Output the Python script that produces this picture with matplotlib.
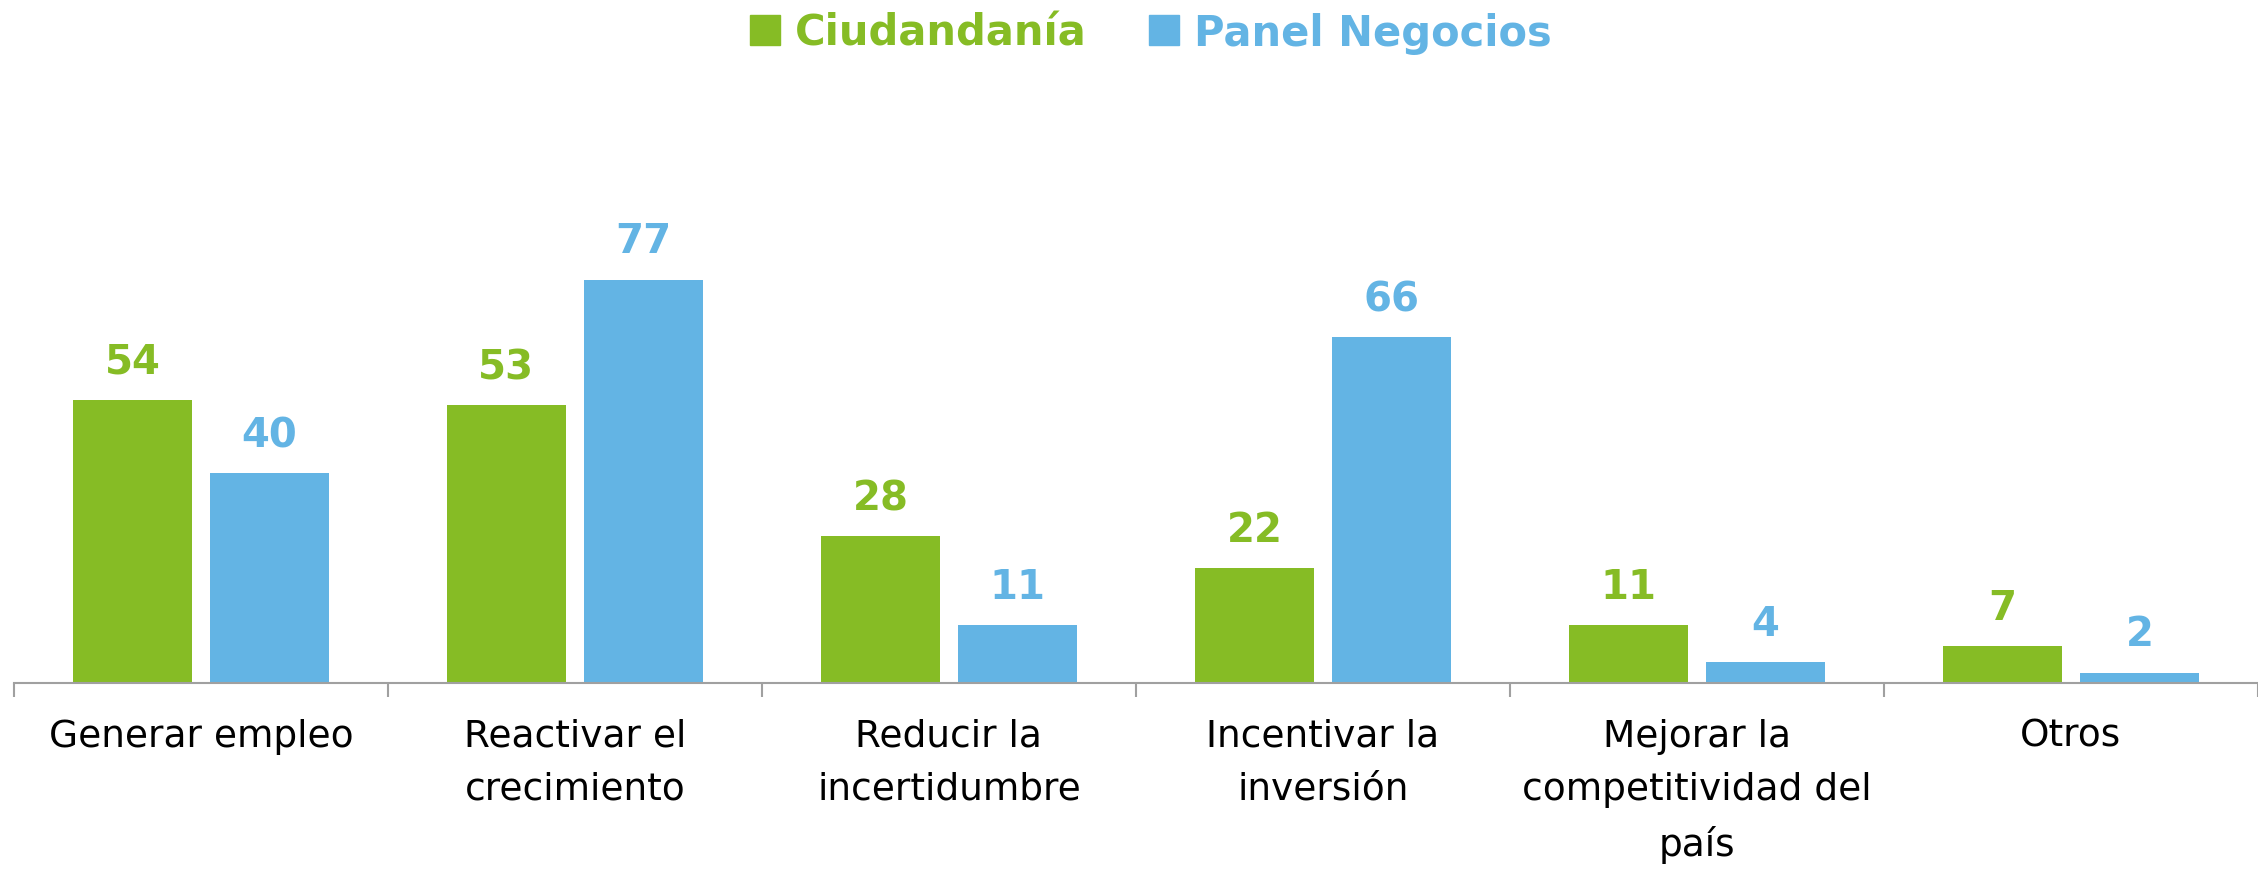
import matplotlib
matplotlib.use("Agg")
import matplotlib.pyplot as plt
from matplotlib.patches import Patch
import numpy as np

categories = ["Generar empleo", "Reactivar el\ncrecimiento", "Reducir la\nincertidumbre",
              "Incentivar la\ninversión", "Mejorar la\ncompetitividad del\npaís", "Otros"]
ciudadania = [54, 53, 28, 22, 11, 7]
panel = [40, 77, 11, 66, 4, 2]
series_names = ["Ciudandanía", "Panel Negocios"]
green = "#86BC25"
blue = "#63B4E4"

plt.rcParams['font.family'] = ['DejaVu Sans']

W, H = 2258, 870
fig = plt.figure(figsize=(W / 100, H / 100), dpi=100)
base_px = 684
top_px = 100
ax = fig.add_axes([0, (H - base_px) / H, 1, (base_px - top_px) / H])

px_per_cat = 377.0
x0 = -0.5 - 14 / px_per_cat
ax.set_xlim(x0, x0 + W / px_per_cat)
ax.set_ylim(0, (base_px - top_px) / 5.24)

x = np.arange(len(categories))
bw = 120 / px_per_cat
off = 69 / px_per_cat
b1 = ax.bar(x - off, ciudadania, bw, color=green)
b2 = ax.bar(x + off, panel, bw, color=blue)

for bars, vals, c in [(b1, ciudadania, green), (b2, panel, blue)]:
    for r, v in zip(bars, vals):
        ax.annotate(str(v), (r.get_x() + r.get_width() / 2, v), xytext=(0, 19.5),
                    textcoords="offset points", ha="center", va="baseline",
                    fontsize=29, fontweight="bold", color=c)

for s in ["top", "right", "left"]:
    ax.spines[s].set_visible(False)
ax.spines["bottom"].set_color("#a0a0a0")
ax.spines["bottom"].set_linewidth(1.5)
ax.spines["bottom"].set_bounds(-0.5, 5.5)
ax.set_yticks([])
ax.set_xticks(x)
ax.set_xticklabels(categories, fontsize=27, linespacing=1.6)
ax.tick_params(axis="x", which="major", length=0, pad=25)
ax.set_xticks(np.arange(-0.5, 6.0, 1.0), minor=True)
ax.tick_params(axis="x", which="minor", length=10, width=1.5, color="#a0a0a0", direction="out")

handles = [Patch(color=green), Patch(color=blue)]
fig.legend(handles, series_names, loc="upper center", bbox_to_anchor=(0.5097, 1.019),
           ncol=2, frameon=False, prop={"size": 30, "weight": "bold"},
           labelcolor=[green, blue], handlelength=0.72, handleheight=0.72,
           handletextpad=0.35, columnspacing=1.5, borderaxespad=0.3)

fig.savefig("out.png", dpi=100)
